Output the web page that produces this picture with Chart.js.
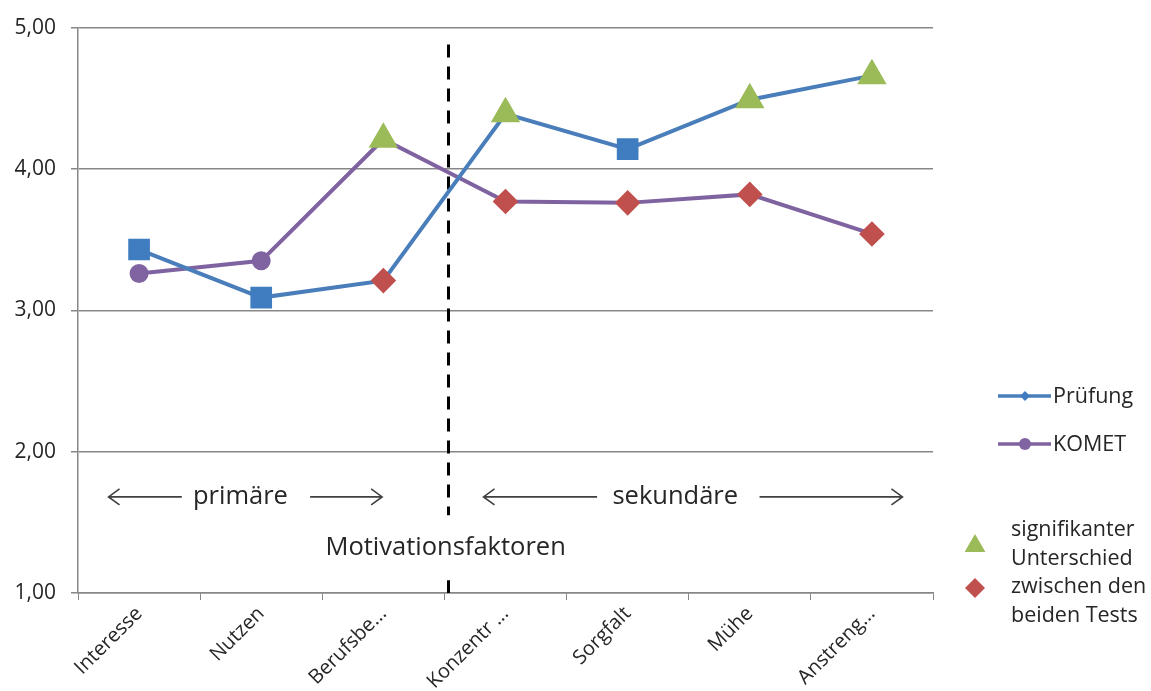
<!DOCTYPE html>
<html>
<head>
  <meta charset="utf-8">
  <title>Motivationsfaktoren – Prüfung vs. KOMET</title>
  <script src="https://cdn.jsdelivr.net/npm/chart.js"></script>
  <style>
    html, body { margin: 0; padding: 0; background: #fff; }
  </style>
</head>
<body>
  <canvas id="chart" width="1151" height="691"></canvas>
  <script>
    // Mittelwerte je Motivationsfaktor
    const categories = ["Interesse", "Nutzen", "Berufsbe...", "Konzentr ...", "Sorgfalt", "Mühe", "Anstreng..."];
    const pruefung = [3.43, 3.09, 3.21, 4.39, 4.14, 4.49, 4.66];
    const komet = [3.26, 3.35, 4.21, 3.77, 3.76, 3.82, 3.54];
    // signifikanter Unterschied: 1 = höher (Dreieck), -1 = niedriger (Raute), 0 = keiner
    const pruefungSig = [0, 0, -1, 1, 0, 1, 1];
    const kometSig = [0, 0, 1, -1, -1, -1, -1];
    const yTicks = [1, 2, 3, 4, 5];

    const FONT = "'Open Sans', 'Noto Sans', sans-serif";
    const BLUE = "#4a7ebb", BLUE_MARK = "#3f7cc0";
    const PURPLE = "#7f63a1", PURPLE_MARK = "#8064a2";
    const GREEN = "#9bbb59", RED = "#c0504d";
    const GRID = "#878787";
    const TEXT = "#262626";

    function styleFor(sig, base) {
      if (sig === 1) return { style: "triangle", color: GREEN, r: 13 };
      if (sig === -1) return { style: "rectRot", color: RED, r: 10 };
      return base;
    }
    function markers(sig, base) {
      const s = sig.map(v => styleFor(v, base));
      return {
        pointStyle: s.map(m => m.style),
        pointBackgroundColor: s.map(m => m.color),
        pointBorderColor: s.map(m => m.color),
        pointRadius: s.map(m => m.r),
        pointHoverRadius: s.map(m => m.r)
      };
    }

    // Trennlinie, Pfeile und Beschriftungen, Legende
    const overlay = {
      id: "overlay",
      beforeDatasetsDraw(chart) {
        const { ctx, scales: { x, y }, chartArea } = chart;
        const xd = Math.round((x.getPixelForValue(2) + x.getPixelForValue(3)) / 2) + 4.5;
        ctx.save();
        ctx.strokeStyle = "#000";
        ctx.lineWidth = 3;
        ctx.setLineDash([13, 9]);
        ctx.beginPath();
        ctx.moveTo(xd, chartArea.top + 17);
        ctx.lineTo(xd, y.getPixelForValue(1.55));
        ctx.stroke();
        ctx.beginPath();
        ctx.moveTo(xd, y.getPixelForValue(1.09));
        ctx.lineTo(xd, chartArea.bottom);
        ctx.stroke();
        ctx.restore();
      },
      afterDraw(chart) {
        const { ctx, scales: { x, y } } = chart;
        ctx.save();
        const arrow = (x1, x2, yy) => {
          const dir = Math.sign(x2 - x1);
          ctx.beginPath();
          ctx.moveTo(x1, yy); ctx.lineTo(x2, yy);
          ctx.moveTo(x2 - dir * 11, yy - 8); ctx.lineTo(x2, yy); ctx.lineTo(x2 - dir * 11, yy + 8);
          ctx.stroke();
        };
        ctx.strokeStyle = "#404040";
        ctx.lineWidth = 1.6;
        const ya = y.getPixelForValue(1.68);
        arrow(x.getPixelForValue(0.35), x.getPixelForValue(-0.25), ya);
        arrow(x.getPixelForValue(1.40), x.getPixelForValue(1.99), ya);
        arrow(x.getPixelForValue(3.75), x.getPixelForValue(2.82), ya);
        arrow(x.getPixelForValue(5.08), x.getPixelForValue(6.25), ya);

        ctx.fillStyle = TEXT;
        ctx.textAlign = "center";
        ctx.textBaseline = "middle";
        ctx.font = "25.5px " + FONT;
        ctx.fillText("primäre", x.getPixelForValue(0.83), ya);
        ctx.fillText("sekundäre", x.getPixelForValue(4.39), ya);
        ctx.fillText("Motivationsfaktoren", x.getPixelForValue(2.51), y.getPixelForValue(1.32));

        // Legende
        ctx.font = "21.5px " + FONT;
        ctx.textAlign = "left";
        const series = [
          { label: "Prüfung", line: BLUE, mark: BLUE_MARK, style: "rectRot", r: 5, y: 396 },
          { label: "KOMET", line: PURPLE, mark: PURPLE_MARK, style: "circle", r: 6, y: 444 }
        ];
        series.forEach(s => {
          ctx.strokeStyle = s.line;
          ctx.lineWidth = 3.5;
          ctx.beginPath();
          ctx.moveTo(998, s.y); ctx.lineTo(1051, s.y);
          ctx.stroke();
          ctx.fillStyle = s.mark;
          Chart.helpers.drawPoint(ctx, { pointStyle: s.style, radius: s.r, borderWidth: 0 }, 1025, s.y);
          ctx.fillStyle = TEXT;
          ctx.fillText(s.label, 1053, s.y + 1);
        });
        ctx.fillStyle = GREEN;
        Chart.helpers.drawPoint(ctx, { pointStyle: "triangle", radius: 12, borderWidth: 0 }, 975, 546);
        ctx.fillStyle = RED;
        Chart.helpers.drawPoint(ctx, { pointStyle: "rectRot", radius: 10, borderWidth: 0 }, 975, 588);
        ctx.fillStyle = TEXT;
        ["signifikanter", "Unterschied", "zwischen den", "beiden Tests"].forEach((t, i) => {
          ctx.fillText(t, 1011, 530 + i * 28.5);
        });
        ctx.restore();
      }
    };

    new Chart(document.getElementById("chart"), {
      type: "line",
      data: {
        labels: categories,
        datasets: [
          Object.assign({
            label: "Prüfung",
            data: pruefung,
            borderColor: BLUE,
            borderWidth: 4,
            tension: 0
          }, markers(pruefungSig, { style: "rect", color: BLUE_MARK, r: 12.5 })),
          Object.assign({
            label: "KOMET",
            data: komet,
            borderColor: PURPLE,
            borderWidth: 4,
            tension: 0
          }, markers(kometSig, { style: "circle", color: PURPLE_MARK, r: 7.5 }))
        ]
      },
      options: {
        responsive: false,
        animation: false,
        layout: { padding: { top: 21, right: 218, left: 0, bottom: 0 } },
        plugins: {
          legend: { display: false },
          tooltip: { enabled: false },
          title: { display: false }
        },
        scales: {
          x: {
            offset: true,
            grid: { offset: true, drawOnChartArea: false, color: GRID, tickLength: 7 },
            border: { color: GRID, width: 1.5 },
            ticks: {
              minRotation: 45, maxRotation: 45, autoSkip: false,
              color: TEXT, padding: 2,
              font: { family: FONT, size: 20 }
            },
            afterFit(scale) { scale.height = 98; }
          },
          y: {
            min: 1, max: 5,
            afterBuildTicks(scale) { scale.ticks = yTicks.map(v => ({ value: v })); },
            grid: { color: GRID, lineWidth: 1.5, tickLength: 7 },
            border: { color: GRID, width: 1.5 },
            ticks: {
              color: TEXT, padding: 15,
              font: { family: FONT, size: 21 },
              callback: v => v.toFixed(2).replace(".", ",")
            },
            afterFit(scale) { scale.width = 78; }
          }
        }
      },
      plugins: [overlay]
    });
  </script>
</body>
</html>
